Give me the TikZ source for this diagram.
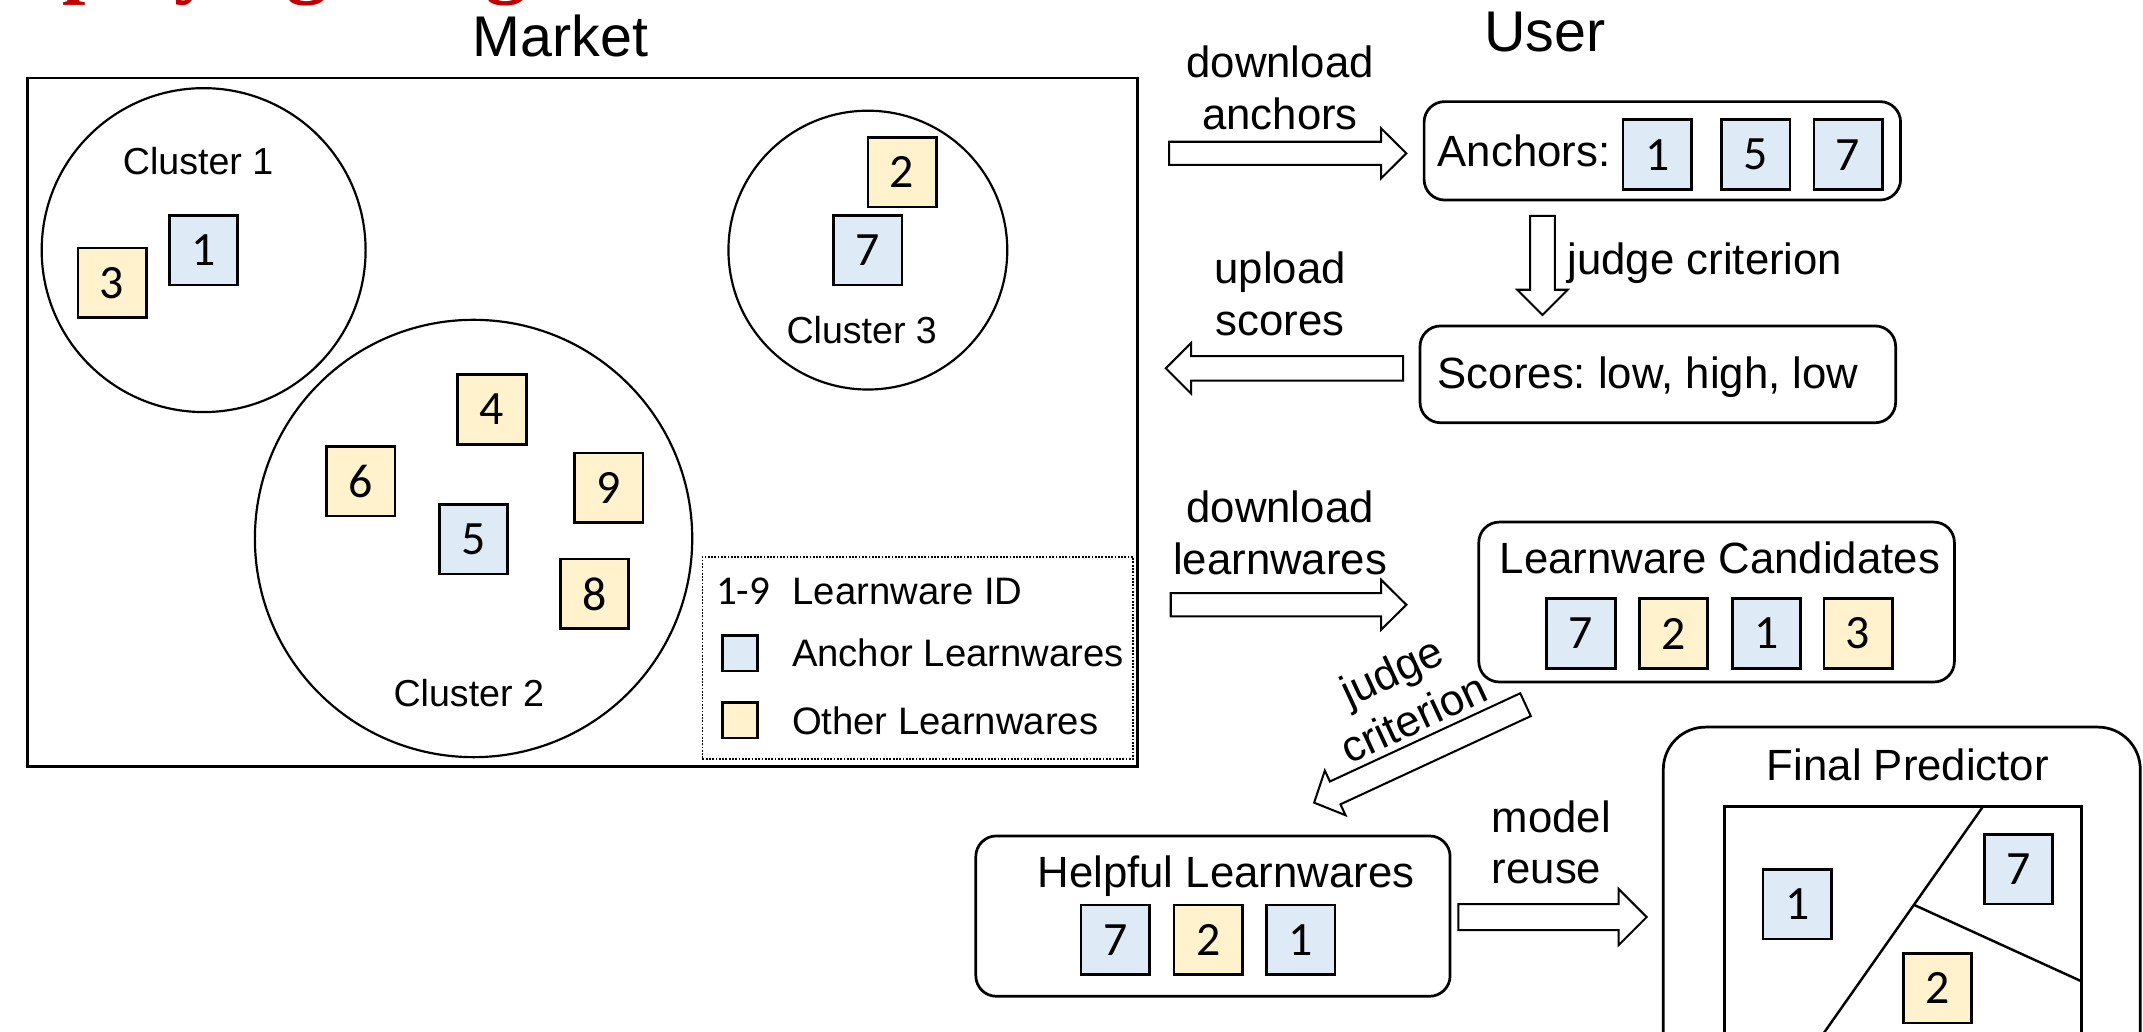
\documentclass[tikz,border=0pt]{standalone}
\usepackage{fontspec}
\setmainfont{Liberation Sans}
\newfontfamily\digitfont{Carlito}
\newfontfamily\headfont{Liberation Serif}
\usetikzlibrary{calc}
\frenchspacing

\definecolor{lwblue}{HTML}{DEEBF7}
\definecolor{lwyellow}{HTML}{FFF2CC}
\definecolor{headred}{HTML}{C00000}

% hollow block arrow: #1 tail, #2 tip, #3 half shaft width, #4 half head width, #5 head length
\newcommand\hollowarrow[5]{%
  \coordinate (hb) at ($(#2)!#5!(#1)$);
  \draw[blockline]
    ($(#1)!#3!90:(#2)$) --
    ($(hb)!#3!-90:(#1)$) --
    ($(hb)!#4!-90:(#1)$) --
    (#2) --
    ($(hb)!#4!90:(#1)$) --
    ($(hb)!#3!90:(#1)$) --
    ($(#1)!#3!-90:(#2)$) -- cycle;}

\tikzset{
  every node/.style={inner sep=0pt, outer sep=0pt},
  lwbox/.style={draw, line width=2pt, minimum width=50pt, minimum height=51pt,
    font=\digitfont\fontsize{35}{40}\selectfont},
  anchorlw/.style={lwbox, fill=lwblue},
  otherlw/.style={lwbox, fill=lwyellow},
  keybox/.style={draw, line width=2pt, minimum width=26pt, minimum height=26pt},
  cluster/.style={draw, circle, line width=1.6pt},
  panel/.style={draw, line width=2pt, rounded corners=15pt},
  bigtitle/.style={font=\fontsize{42}{48}\selectfont},
  clabel/.style={font=\fontsize{27.5}{33}\selectfont},
  keylabel/.style={font=\fontsize{28}{33}\selectfont},
  lbl/.style={font=\fontsize{32}{38}\selectfont},
  steplabel/.style={font=\fontsize{32}{38}\selectfont, align=center},
  blockline/.style={draw, fill=white, line width=1.5pt, line join=miter},
}

\begin{document}
\begin{tikzpicture}[x=1pt, y=-1pt]
\useasboundingbox (0,0) rectangle (1568,755);
\clip (0,0) rectangle (1568,755);

% heading line above the figure
\node[anchor=base west, text=headred, font=\headfont\bfseries\fontsize{61.5}{70}\selectfont]
  (headline) at (-26,-9.2) {Deploying Large};

% ---------------- market ----------------
\node[bigtitle, anchor=base] (markettitle) at (410,41.5) {Market};
\node[draw, line width=2pt, minimum width=812.5pt, minimum height=504pt] (market) at (426.25,309) {};

\node[cluster, minimum size=237pt] (c1) at (149,183) {};
\node[cluster, minimum size=320pt] (c2) at (346.5,394) {};
\node[cluster, minimum size=204pt] (c3) at (635,183) {};

\node[clabel, anchor=base] (c1lab) at (145,128) {Cluster 1};
\node[clabel, anchor=base] (c2lab) at (343,517) {Cluster 2};
\node[clabel, anchor=base] (c3lab) at (630.5,251) {Cluster 3};

\node[anchorlw] (m1) at (149,183) {1};
\node[otherlw]  (m3) at (82,207) {3};
\node[otherlw]  (m4) at (360,299.5) {4};
\node[otherlw]  (m6) at (264,352) {6};
\node[otherlw]  (m9) at (445.5,357) {9};
\node[anchorlw] (m5) at (346.5,394.5) {5};
\node[otherlw]  (m8) at (435,434.5) {8};
\node[otherlw]  (m2) at (660,126) {2};
\node[anchorlw] (m7) at (635,183) {7};

% legend
\node[draw, line width=1.2pt, dash pattern=on 1.3pt off 1.1pt,
  minimum width=315pt, minimum height=148pt] (legend) at (671.5,481.5) {};
\node[anchor=base west, font=\digitfont\fontsize{30}{34}\selectfont] (keynum) at (524,442) {1-9};
\node[keylabel, anchor=base west] (keyid) at (580,442) {Learnware ID};
\node[keybox, fill=lwblue] (keyanchor) at (541.5,478) {};
\node[keylabel, anchor=base west] (keyanchortxt) at (579.5,488) {Anchor Learnwares};
\node[keybox, fill=lwyellow] (keyother) at (541.5,527) {};
\node[keylabel, anchor=base west] (keyothertxt) at (579.5,537.5) {Other Learnwares};

% ---------------- user ----------------
\node[bigtitle, anchor=base] (usertitle) at (1130.5,38) {User};

\node[panel, minimum width=348.6pt, minimum height=72pt] (anchorsP) at (1216.3,110.35) {};
\node[lbl, anchor=base west] (anchorstxt) at (1052,121.5) {Anchors:};
\node[anchorlw] (a1) at (1212.5,113.2) {1};
\node[anchorlw] (a5) at (1284.7,113.2) {5};
\node[anchorlw] (a7) at (1352.2,113.2) {7};

\node[panel, minimum width=348pt, minimum height=70.8pt] (scoresP) at (1213,273.9) {};
\node[lbl, anchor=base west] (scorestxt) at (1052,284.5) {Scores: low, high, low};

\node[panel, minimum width=348pt, minimum height=117pt] (candP) at (1256,440.5) {};
\node[lbl, anchor=base] (candtxt) at (1258.5,419.5) {Learnware Candidates};
\node[anchorlw] (k7) at (1156.8,463.5) {7};
\node[otherlw]  (k2) at (1224.5,463.5) {2};
\node[anchorlw] (k1) at (1292.5,463.5) {1};
\node[otherlw]  (k3) at (1359.5,463.5) {3};

\node[panel, minimum width=347pt, minimum height=117.3pt] (helpP) at (887.5,670.3) {};
\node[lbl, anchor=base] (helptxt) at (897,649) {Helpful Learnwares};
\node[anchorlw] (h7) at (816,687.7) {7};
\node[otherlw]  (h2) at (884,687.7) {2};
\node[anchorlw] (h1) at (951.7,687.7) {1};

% final predictor
\node[draw, line width=2pt, rounded corners=31pt, minimum width=349pt, minimum height=300pt,
  anchor=north west] (finalP) at (1217,532) {};
\node[lbl, anchor=base] (finaltxt) at (1396,571) {Final Predictor};
\node[draw, line width=2pt, minimum width=261pt, minimum height=250pt,
  anchor=north west] (region) at (1262,590) {};
\coordinate (cutA) at (1451,590);
\coordinate (cutB) at (1303.4,800);
\coordinate (cutC) at ($(cutA)!0.343!(cutB)$);
\coordinate (cutD) at (1523,718);
\draw[line width=1.8pt] (cutA) -- (cutB);
\draw[line width=1.8pt] (cutC) -- (cutD);
\node[anchorlw] (f1) at (1315,661.5) {1};
\node[anchorlw] (f7) at (1477,636) {7};
\node[otherlw]  (f2) at (1417.5,723) {2};

% ---------------- flow arrows ----------------
\coordinate (dlA0) at (855.4,112.2);
\coordinate (dlA1) at (1029,112.2);
\hollowarrow{dlA0}{dlA1}{8.5pt}{18.3pt}{18.5pt}
\node[steplabel, anchor=north] (dlAtxt) at (936.6,33.7) {download\\anchors};

\coordinate (jdg0) at (1128.6,158);
\coordinate (jdg1) at (1128.6,230.5);
\hollowarrow{jdg0}{jdg1}{9.1pt}{18.5pt}{18.5pt}
\node[lbl, anchor=base west] (jdgtxt) at (1147,201) {judge criterion};

\coordinate (up0) at (1026.6,269.5);
\coordinate (up1) at (853,269.5);
\hollowarrow{up0}{up1}{9pt}{18.5pt}{18.5pt}
\node[steplabel, anchor=north] (uptxt) at (936.6,184.4) {upload\\scores};

\coordinate (dlL0) at (856.6,442.5);
\coordinate (dlL1) at (1029,442.5);
\hollowarrow{dlL0}{dlL1}{8.5pt}{18.3pt}{18.5pt}
\node[steplabel, anchor=north] (dlLtxt) at (936.6,359.3) {download\\learnwares};

\coordinate (sel0) at (1116.2,515.6);
\coordinate (sel1) at (961.5,587.3);
\hollowarrow{sel0}{sel1}{9.2pt}{18pt}{17pt}
\node[steplabel, rotate=25] (seltxt) at (1026,508) {judge\\criterion};

\coordinate (mr0) at (1067,671);
\coordinate (mr1) at (1204.8,671);
\hollowarrow{mr0}{mr1}{9.5pt}{20.5pt}{20.5pt}
\node[lbl, anchor=north west, align=left] (mrtxt) at (1091.6,585.6) {model\\reuse};

\end{tikzpicture}
\end{document}
